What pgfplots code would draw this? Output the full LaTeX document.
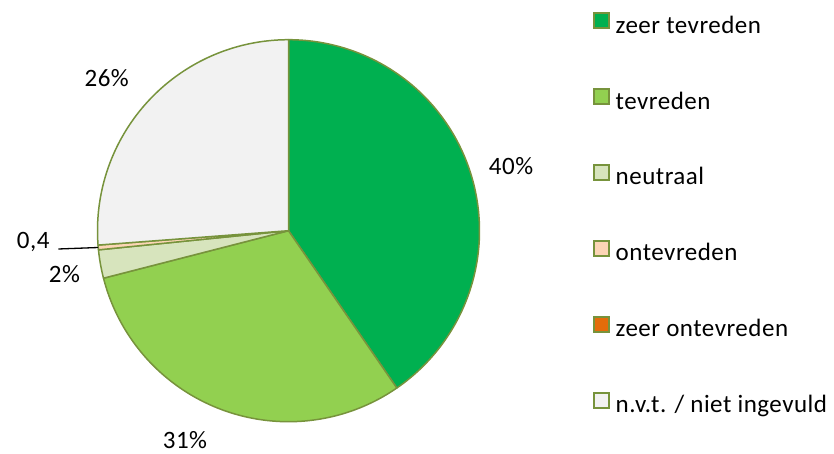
\documentclass[border=0pt]{standalone}
\usepackage{fontspec}
\setmainfont{Carlito}[LetterSpace=2.0]
\usepackage{pgfplots}
\usepackage{pgfplotstable}
\pgfplotsset{compat=1.18}
\definecolor{c1}{HTML}{00B050}
\definecolor{c2}{HTML}{92D050}
\definecolor{c3}{HTML}{D7E4BD}
\definecolor{c4}{HTML}{FCD5B5}
\definecolor{c5}{HTML}{E46C0A}
\definecolor{c6}{HTML}{F2F2F2}
\definecolor{bd}{HTML}{77933C}
\pgfplotstableread{
name value
zt 40.4
t 30.6
n 2.4
o 0.4
zo 0.0
nvt 26.2
}\piedata
\begin{document}
\begin{tikzpicture}
\pgfplotstablegetelem{0}{value}\of\piedata \pgfmathsetmacro\vA{\pgfplotsretval}
\pgfplotstablegetelem{1}{value}\of\piedata \pgfmathsetmacro\vB{\pgfplotsretval}
\pgfplotstablegetelem{2}{value}\of\piedata \pgfmathsetmacro\vC{\pgfplotsretval}
\pgfplotstablegetelem{3}{value}\of\piedata \pgfmathsetmacro\vD{\pgfplotsretval}
\pgfplotstablegetelem{4}{value}\of\piedata \pgfmathsetmacro\vE{\pgfplotsretval}
\pgfplotstablegetelem{5}{value}\of\piedata \pgfmathsetmacro\vF{\pgfplotsretval}
\pgfmathsetmacro\aA{90}
\pgfmathsetmacro\aB{\aA-3.6*\vA}
\pgfmathsetmacro\aC{\aB-3.6*\vB}
\pgfmathsetmacro\aD{\aC-3.6*\vC}
\pgfmathsetmacro\aE{\aD-3.6*\vD}
\pgfmathsetmacro\aF{\aE-3.6*\vE}
\pgfmathsetmacro\aG{\aF-3.6*\vF}
\def\cx{288.5}\def\cy{222.3}\def\rr{191}
\begin{axis}[
  width=834pt, height=453pt, scale only axis,
  xmin=0, xmax=834, ymin=0, ymax=453,
  hide axis, clip=false,
  font=\fontsize{25}{30}\selectfont,
  legend image code/.code={\draw[#1, line width=1.8pt] (0pt,-1pt) rectangle (15pt,14pt);},
  legend cell align=left,
  legend style={at={(axis cs:592.7,441)}, anchor=north west, draw=none, fill=none,
    inner sep=0pt, row sep=50pt, column sep=6pt,
    nodes={inner sep=0pt, text height=17pt, text depth=5pt},
    font=\fontsize{25}{30}\selectfont},
]
\path (axis cs:0,0) rectangle (axis cs:834,453);
\addlegendimage{fill=c1, draw=bd}\addlegendentry{zeer tevreden}
\addlegendimage{fill=c2, draw=bd}\addlegendentry{tevreden}
\addlegendimage{fill=c3, draw=bd}\addlegendentry{neutraal}
\addlegendimage{fill=c4, draw=bd}\addlegendentry{ontevreden}
\addlegendimage{fill=c5, draw=bd}\addlegendentry{zeer ontevreden}
\addlegendimage{fill=c6, draw=bd}\addlegendentry{n.v.t. / niet ingevuld}
\addplot[forget plot, fill=c1, draw=bd, line width=1.5pt, line join=round, domain=\aB:\aA, samples=120, variable=\t]
  ({\cx+\rr*cos(\t)},{\cy+\rr*sin(\t)}) -- (axis cs:\cx,\cy) -- cycle;
\addplot[forget plot, fill=c2, draw=bd, line width=1.5pt, line join=round, domain=\aC:\aB, samples=120, variable=\t]
  ({\cx+\rr*cos(\t)},{\cy+\rr*sin(\t)}) -- (axis cs:\cx,\cy) -- cycle;
\addplot[forget plot, fill=c3, draw=bd, line width=1.5pt, line join=round, domain=\aD:\aC, samples=20, variable=\t]
  ({\cx+\rr*cos(\t)},{\cy+\rr*sin(\t)}) -- (axis cs:\cx,\cy) -- cycle;
\addplot[forget plot, fill=c4, draw=bd, line width=1.5pt, line join=round, domain=\aE:\aD, samples=5, variable=\t]
  ({\cx+\rr*cos(\t)},{\cy+\rr*sin(\t)}) -- (axis cs:\cx,\cy) -- cycle;
\addplot[forget plot, fill=c6, draw=bd, line width=1.5pt, line join=round, domain=\aG:\aF, samples=120, variable=\t]
  ({\cx+\rr*cos(\t)},{\cy+\rr*sin(\t)}) -- (axis cs:\cx,\cy) -- cycle;
\addplot[forget plot, black, line width=1.3pt] coordinates {(58.3,204) (98.2,205.5)};
\node[anchor=base] at (axis cs:511,278) {40\%};
\node[anchor=base] at (axis cs:185,5) {31\%};
\node[anchor=base] at (axis cs:106.7,366) {26\%};
\node[anchor=base] at (axis cs:64.5,171) {2\%};
\node[anchor=base east] at (axis cs:53,205) {0,4};
\end{axis}
\end{tikzpicture}
\end{document}
